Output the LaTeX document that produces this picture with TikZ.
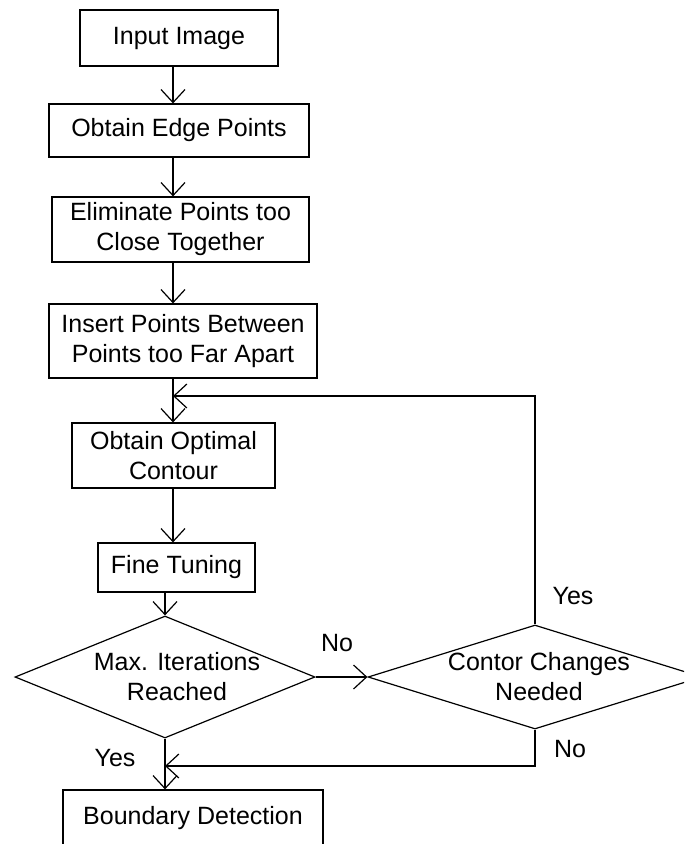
\documentclass[tikz,border=0pt]{standalone}
\usepackage{fontspec}
\setmainfont{Liberation Sans}
\usetikzlibrary{shapes.geometric,arrows.meta}
\tikzset{%
	flow/.style={
		draw,
		line width=0.6pt,
		align=center,
		inner sep=0pt,
		font=\fontsize{12.5}{15}\selectfont
	},
	flow-box/.style={ rectangle },
	flow-decision/.style={ diamond },
	flow-label/.style={
		align=center,
		font=\fontsize{12.5}{15}\selectfont
	},
}

\begin{document}
\begin{tikzpicture}[x=0.5pt, y=-0.5pt, >={Straight Barb[length=6.5pt,width=12pt]}, line width=0.6pt]
\clip (0,0) rectangle (684,844);
% boxes
\foreach \name/\x/\y/\w/\h/\txt in {
	inimg/179/38/198/56/{Input Image},
	edge/179/130.5/260/53/{Obtain Edge Points},
	elim/180.5/229.5/257/65/{Eliminate Points too\\Close Together},
	insert/183/341/268/74/{Insert Points Between\\Points too Far Apart},
	optimal/173.5/455.5/203/65/{Obtain Optimal\\Contour},
	fine/176.5/567.5/157/49/{Fine Tuning},
	boundary/193/818/260/56/{Boundary Detection}}
	\node[flow, flow-box, minimum width=\w*0.5pt, minimum height=\h*0.5pt] (\name) at (\x,\y) {\txt};

% decisions
\node[flow, flow-decision, minimum width=150pt, minimum height=61pt,
	label={[flow-label, xshift=6pt]center:{Max. Iterations\\Reached}}] (maxit) at (165,677) {};
\node[flow, flow-decision, minimum width=167pt, minimum height=52pt,
	label={[flow-label, xshift=2pt]center:{Contor Changes\\Needed}}] (contor) at (535,677) {};

% connections
\coordinate (spine) at (173,0);
\foreach \a/\b in {inimg/edge, edge/elim, elim/insert, insert/optimal, optimal/fine}
	\draw[->] (\a.south -| spine) -- (\b.north -| spine);
\draw[->] (fine.south -| maxit.north) -- (maxit.north);
\draw[->] (maxit.east) -- (contor.west);
\draw[->] (maxit.south) -- (boundary.north -| maxit.south);

% loops back
\coordinate (loop) at (173,396);
\coordinate (merge) at (165,766);
\draw[->] (contor.north) |- (loop);
\draw[->] (contor.south) |- (merge);

% branch labels
\node[flow-label] (no-right) at (337,643) {No};
\node[flow-label] (yes-up) at (573,596) {Yes};
\node[flow-label] (no-down) at (570,749) {No};
\node[flow-label] (yes-down) at (115,758) {Yes};

\end{tikzpicture}
\end{document}
